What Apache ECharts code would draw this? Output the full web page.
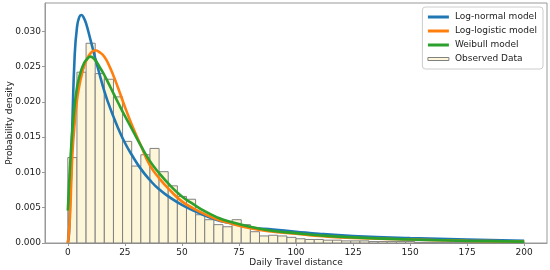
<!DOCTYPE html>
<html>
<head>
<meta charset="utf-8">
<script src="https://cdn.jsdelivr.net/npm/echarts@6/dist/echarts.min.js"></script>
<style>html,body{margin:0;padding:0;background:#fff}#c{width:550px;height:270px}</style>
</head>
<body>
<div id="c"></div>
<script>
// Histogram (bin left edges, bin width 4)
const binLefts = [0,4,8,12,16,20,24,28,32,36,40,44,48,52,56,60,64,68,72,76,80,84,88,92,96,100,104,108,112,116,120,124,128,132,136,140,144,148,152,156,160,164,168,172,176,180,184,188,192,196];
const binWidth = 4;
const observed = [0.0121,0.0242,0.0283,0.0240,0.0232,0.0207,0.0144,0.0109,0.0125,0.0134,
  0.0101,0.0081,0.0066,0.0062,0.0040,0.0033,0.0026,0.0023,0.0033,0.0026,
  0.0016,0.0010,0.0011,0.0010,0.0008,0.0006,0.0005,0.0005,0.0004,0.0004,
  0.0003,0.0003,0.0003,0.0002,0.0002,0.0002,0.0002,0.0002,0.0001,0.0001,
  0.0001,0.0001,0.0001,0.0001,0.0001,0.0001,0.0001,0.0001,0.0001,0.0001];

// Model curves
const curveX =      [0,     0.5,   1,     1.5,   2,     3,     4,     5,     6,     7,     8,     10,    12,    14,    16,    18,    20,    22,    25,    28,    32,    36,    40,    45,    50,    55,    60,    65,    70,    80,    90,    100,   110,   125,   150,   175,   200];
const logNormal =   [0,     0.0012,0.0060,0.0110,0.0170,0.0265,0.0305,0.0320,0.0323,0.0319,0.0311,0.0287,0.0262,0.0238,0.0215,0.0196,0.0179,0.0163,0.0142,0.0125,0.0105,0.0089,0.0076,0.0064,0.0054,0.0046,0.0039,0.0033,0.0029,0.0022,0.0019,0.0016,0.0013,0.0010,0.0007,0.0005,0.0003];
const logLogistic = [0,     0.0015,0.0042,0.0085,0.0125,0.0170,0.0202,0.0222,0.0237,0.0249,0.0258,0.0269,0.0273,0.0270,0.0264,0.0252,0.0237,0.0220,0.0193,0.0168,0.0138,0.0110,0.0092,0.0074,0.0059,0.0049,0.0041,0.0034,0.0029,0.0021,0.0016,0.0013,0.0010,0.0007,0.0005,0.0003,0.0002];
const weibull =     [0.0046,0.0080,0.0110,0.0137,0.0160,0.0195,0.0220,0.0235,0.0246,0.0254,0.0259,0.0264,0.0259,0.0249,0.0238,0.0225,0.0212,0.0199,0.0180,0.0162,0.0138,0.0116,0.0099,0.0081,0.0066,0.0055,0.0045,0.0037,0.0031,0.0023,0.0017,0.0014,0.0011,0.0008,0.0005,0.0003,0.0002];

const xTicks = [0,25,50,75,100,125,150,175,200];
const yTicks = [0,0.005,0.010,0.015,0.020,0.025,0.030];

const names = ['Log-normal model','Log-logistic model','Weibull model','Observed Data'];

const font = 'DejaVu Sans';
const chart = echarts.init(document.getElementById('c'), null, {renderer:'canvas'});

function pairs(xs, ys){ return xs.map((x,i)=>[x, ys[i]]); }

const histData = binLefts.map((b,i)=>[b, b+binWidth, observed[i]]);

function lineSeries(name, ys, color){
  return {
    name, type:'line', data: pairs(curveX, ys), showSymbol:false, symbol:'none',
    smooth:0.5, z:3, sampling:null,
    lineStyle:{color, width:2.6}, itemStyle:{color}
  };
}

chart.setOption({
  animation:false,
  textStyle:{fontFamily:font},
  grid:{left:45, right:3, top:3, bottom:27, containLabel:false, outerBoundsMode:'none',
    show:true, borderColor:'#999', borderWidth:1, backgroundColor:'transparent'},
  legend:{
    orient:'vertical', right:7, top:7,
    data:[
      {name:names[0], icon:'rect'},
      {name:names[1], icon:'rect'},
      {name:names[2], icon:'rect'},
      {name:names[3], icon:'rect', itemStyle:{color:'#fdf6d8', borderColor:'#808080', borderWidth:1}}
    ],
    itemWidth:21, itemHeight:3, itemGap:4,
    padding:[5,6,5,5],
    borderColor:'#ccc', borderWidth:1, borderRadius:3, backgroundColor:'#fff',
    textStyle:{fontSize:9, color:'#222', fontFamily:font, padding:[0,0,0,1], lineHeight:10}
  },
  xAxis:{
    type:'value', min:-10, max:210,
    name:'Daily Travel distance', nameLocation:'middle', nameGap:15, nameMoveOverlap:false,
    nameTextStyle:{fontSize:9, color:'#222', fontFamily:font},
    axisLine:{show:true, onZero:false, lineStyle:{color:'#999'}},
    axisTick:{show:true, length:3, customValues:xTicks, lineStyle:{color:'#999'}},
    axisLabel:{customValues:xTicks, fontSize:9, color:'#222', margin:5, fontFamily:font},
    splitLine:{show:false}
  },
  yAxis:{
    type:'value', min:0, max:0.034,
    name:'Probability density', nameLocation:'middle', nameGap:31, nameMoveOverlap:false,
    nameTextStyle:{fontSize:9, color:'#222', fontFamily:font},
    axisLine:{show:true, onZero:false, lineStyle:{color:'#999'}},
    axisTick:{show:true, length:3, customValues:yTicks, lineStyle:{color:'#999'}},
    axisLabel:{customValues:yTicks, fontSize:9, color:'#222', margin:4, fontFamily:font,
      formatter:(v)=>v.toFixed(3)},
    splitLine:{show:false}
  },
  series:[
    {
      name:names[3], type:'custom', z:1,
      itemStyle:{color:'#fdf6d8', borderColor:'#808080'},
      encode:{x:[0,1], y:2},
      data:histData,
      renderItem:function(params, api){
        const p0 = api.coord([api.value(0), api.value(2)]);
        const p1 = api.coord([api.value(1), 0]);
        return {
          type:'rect',
          shape:{x:p0[0], y:p0[1], width:p1[0]-p0[0], height:p1[1]-p0[1]},
          style:{fill:'#fdf6d8', stroke:'#808080', lineWidth:1}
        };
      }
    },
    lineSeries(names[0], logNormal, '#1f77b4'),
    lineSeries(names[1], logLogistic, '#ff7f0e'),
    lineSeries(names[2], weibull, '#2ca02c')
  ]
});
</script>
</body>
</html>
